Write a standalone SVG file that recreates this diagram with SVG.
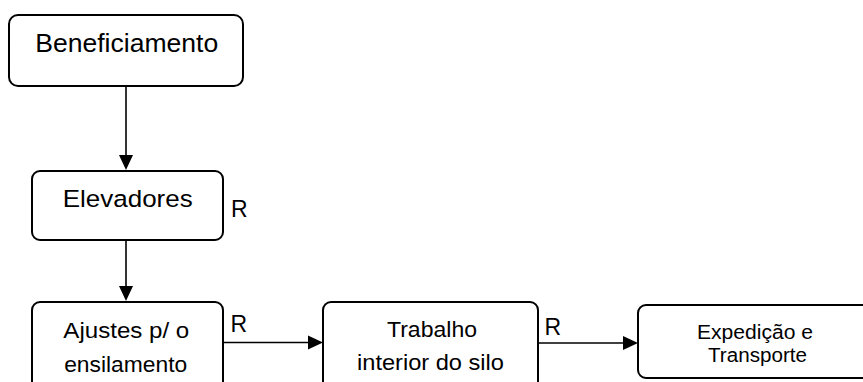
<svg xmlns="http://www.w3.org/2000/svg" width="863" height="382" viewBox="0 0 863 382">
<style>
.box{fill:#fff;stroke:#000;stroke-width:2}
.t{font-family:"Liberation Sans",Arial,sans-serif;fill:#000;text-anchor:middle}
.r{font-family:"Liberation Sans",Arial,sans-serif;font-size:23px;fill:#000}
.c{stroke:#000;stroke-width:1.6;fill:none}
</style>
<g id="connectors">
<path class="c" d="M126,86 V155"/>
<path d="M119,155 L133,155 L126,170 Z" fill="#000"/>
<path class="c" d="M126,240 V286"/>
<path d="M119,286 L133,286 L126,301 Z" fill="#000"/>
<path class="c" d="M223,342.5 H308"/>
<path d="M308,335.5 L308,349.5 L323,342.5 Z" fill="#000"/>
<path class="c" d="M538,343 H623"/>
<path d="M623,336 L623,350 L638,343 Z" fill="#000"/>
</g>
<g id="n1">
<rect class="box" x="9" y="15" width="234" height="71" rx="9"/>
<text class="t" x="126.7" y="52.3" font-size="26.5" textLength="183" lengthAdjust="spacingAndGlyphs">Beneficiamento</text>
</g>
<g id="n2">
<rect class="box" x="32" y="171" width="191" height="69" rx="8"/>
<text class="t" x="127.7" y="207.3" font-size="24.5" textLength="130" lengthAdjust="spacingAndGlyphs">Elevadores</text>
<text class="r" x="231" y="217.3" font-size="25">R</text>
</g>
<g id="n3">
<rect class="box" x="32" y="302" width="191" height="90" rx="8"/>
<text class="t" x="126.3" y="338.3" font-size="22.5" textLength="126" lengthAdjust="spacingAndGlyphs">Ajustes p/ o</text>
<text class="t" x="125.7" y="371.7" font-size="22.5" textLength="123" lengthAdjust="spacingAndGlyphs">ensilamento</text>
<text class="r" x="230.5" y="332">R</text>
</g>
<g id="n4">
<rect class="box" x="323" y="302" width="215" height="90" rx="8"/>
<text class="t" x="432" y="337.3" font-size="22" textLength="90" lengthAdjust="spacingAndGlyphs">Trabalho</text>
<text class="t" x="430.5" y="370.3" font-size="22" textLength="147" lengthAdjust="spacingAndGlyphs">interior do silo</text>
<text class="r" x="544.5" y="335">R</text>
</g>
<g id="n5">
<rect class="box" x="638" y="305" width="240" height="73" rx="8"/>
<text class="t" x="755" y="339" font-size="19.5" textLength="116" lengthAdjust="spacingAndGlyphs">Expedição e</text>
<text class="t" x="757.5" y="361.7" font-size="19.5" textLength="99" lengthAdjust="spacingAndGlyphs">Transporte</text>
</g>
</svg>
